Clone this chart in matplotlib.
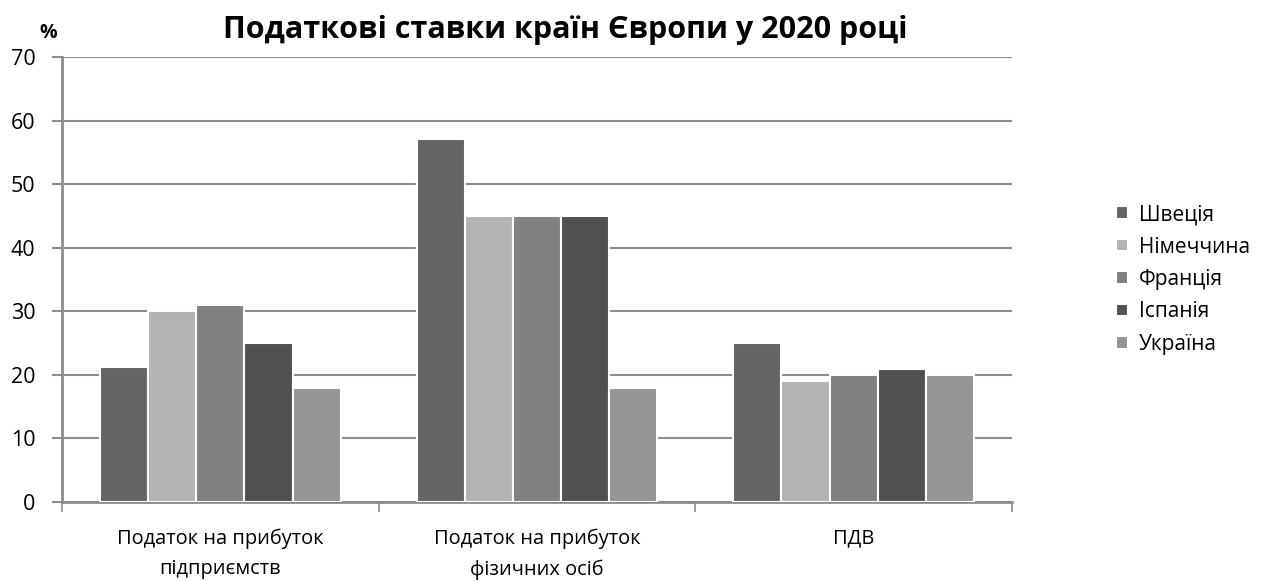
import matplotlib.pyplot as plt
import numpy as np

plt.rcParams['font.family'] = ['Open Sans', 'DejaVu Sans']

categories = ['Податок на прибуток\nпідприємств', 'Податок на прибуток\nфізичних осіб', 'ПДВ']
countries = ['Швеція', 'Німеччина', 'Франція', 'Іспанія', 'Україна']
values = {
    'Швеція': [21.3, 57.1, 25],
    'Німеччина': [30, 45, 19],
    'Франція': [31, 45, 20],
    'Іспанія': [25, 45, 21],
    'Україна': [18, 18, 20],
}
colors = ['#646464', '#b3b3b3', '#808080', '#505050', '#959595']

fig = plt.figure(figsize=(12.73, 5.81), dpi=100)
ax = fig.add_axes([62 / 1273, 1 - 502 / 581, 950 / 1273, 445 / 581])

x = np.arange(len(categories))
w = 0.152
for i, c in enumerate(countries):
    ax.bar(x + (i - 2) * w, values[c], w, color=colors[i], edgecolor='white',
           linewidth=1.5, label=c, zorder=3)

ax.set_xlim(-0.5, 2.5)
ax.set_ylim(0, 70)
ax.set_yticks(range(0, 71, 10))
ax.yaxis.grid(True, color='#8c8c8c', linewidth=1.5, zorder=0)
ax.set_xticks([-0.5, 0.5, 1.5, 2.5])
ax.set_xticklabels([])
ax.set_xticks(x, minor=True)
ax.set_xticklabels(categories, minor=True, fontsize=14.4, linespacing=1.7)
ax.tick_params(axis='x', which='minor', length=0, pad=19)
ax.tick_params(axis='x', which='major', length=7, color='#8c8c8c', width=1.2)
ax.tick_params(axis='y', length=7, color='#8c8c8c', width=1.5, labelsize=15.5, pad=12)

for s in ['top', 'right']:
    ax.spines[s].set_visible(False)
ax.spines['left'].set_color('#8c8c8c')
ax.spines['left'].set_linewidth(2)
ax.spines['bottom'].set_color('#8c8c8c')
ax.spines['bottom'].set_linewidth(2)

fig.text(565 / 1273, 1 - 30 / 581, 'Податкові ставки країн Європи у 2020 році',
         ha='center', va='center', fontsize=22, fontweight='bold')
fig.text(48 / 1273, 1 - 33 / 581, '%', ha='center', va='center', fontsize=14,
         fontweight='bold')

ax.legend(loc='center left', bbox_to_anchor=(1.09, 0.50), frameon=False,
          fontsize=15, handlelength=0.55, handleheight=0.55, handletextpad=0.55,
          labelspacing=0.55)

fig.savefig('out.png', dpi=100)
